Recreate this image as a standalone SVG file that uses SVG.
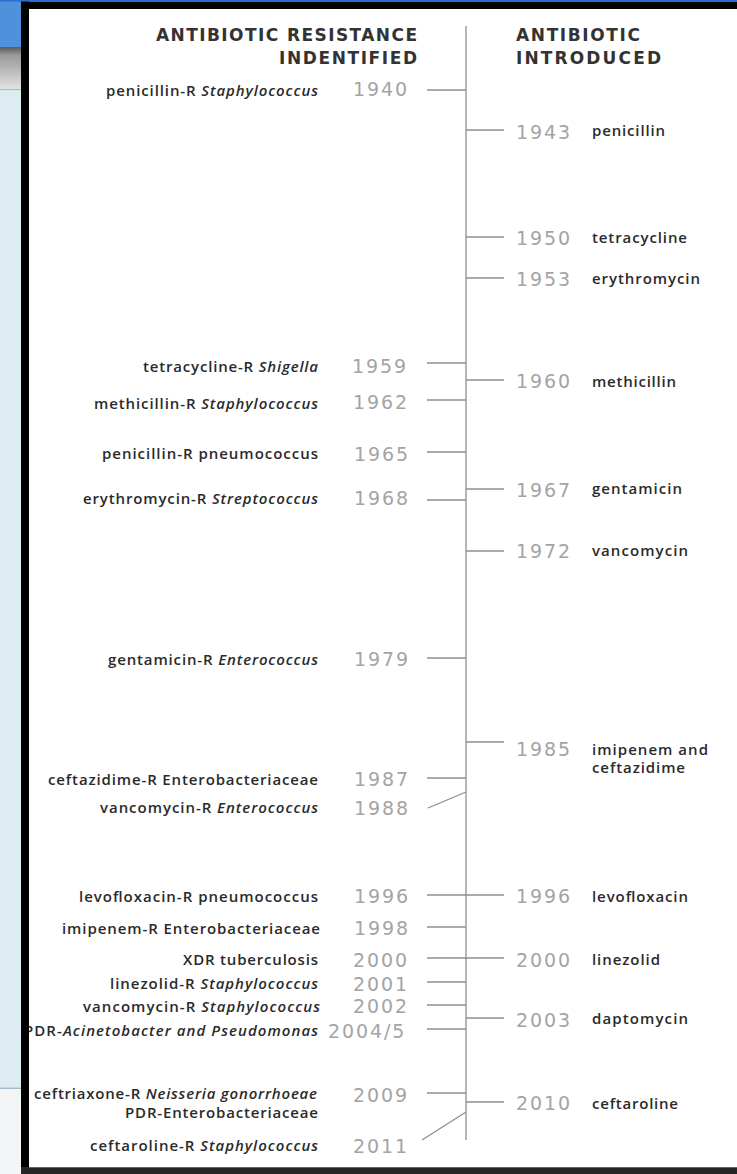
<svg xmlns="http://www.w3.org/2000/svg" width="737" height="1174" viewBox="0 0 737 1174">
<style>
.hdr{font-family:"DejaVu Sans","Liberation Sans",sans-serif;font-weight:bold;font-size:17px;fill:#333333}
.yr{font-family:"DejaVu Sans",sans-serif;font-size:19px;fill:#a4a4a4;letter-spacing:1.9px}
.lbl{font-family:"Open Sans","Liberation Sans",sans-serif;font-size:15px;font-weight:600;fill:#2a2a2a}
.l{text-anchor:end}
.it{font-style:italic}
.ln{stroke:#8e8e8e;stroke-width:1.3;fill:none}
</style>
<defs>
<linearGradient id="gbar" x1="0" y1="0" x2="0" y2="1">
<stop offset="0" stop-color="#5a5a5a"/><stop offset="0.2" stop-color="#9a9a9a"/><stop offset="1" stop-color="#e2e2e2"/>
</linearGradient>
</defs>
<!-- background screenshot strip -->
<rect x="0" y="0" width="737" height="1174" fill="#ffffff"/>
<rect x="0" y="0" width="22" height="47" fill="#4e92dc"/>
<rect x="0" y="47" width="22" height="42" fill="url(#gbar)"/>
<rect x="0" y="89" width="22" height="1.5" fill="#9fc3d3"/>
<rect x="0" y="90.5" width="22" height="997" fill="#dcecf1"/>
<rect x="0" y="1087.5" width="22" height="1.5" fill="#9fb9c6"/>
<rect x="0" y="1089" width="22" height="85" fill="#f3f5f6"/>

<g id="header">
<text class="hdr l" x="417" y="40.5" textLength="261" lengthAdjust="spacing">ANTIBIOTIC RESISTANCE</text>
<text class="hdr l" x="417" y="63.5" textLength="138" lengthAdjust="spacing">INDENTIFIED</text>
<text class="hdr" x="516" y="40.5" textLength="124" lengthAdjust="spacing">ANTIBIOTIC</text>
<text class="hdr" x="516" y="63.5" textLength="145" lengthAdjust="spacing">INTRODUCED</text>
</g>

<g id="connectors">
<line class="ln" x1="466" y1="26" x2="466" y2="1140"/>
<!-- left ticks -->
<line class="ln" x1="427" y1="90" x2="466" y2="90"/>
<line class="ln" x1="427" y1="363" x2="466" y2="363"/>
<line class="ln" x1="427" y1="400" x2="466" y2="400"/>
<line class="ln" x1="427" y1="452" x2="466" y2="452"/>
<line class="ln" x1="427" y1="500" x2="466" y2="500"/>
<line class="ln" x1="427" y1="658" x2="466" y2="658"/>
<line class="ln" x1="427" y1="778" x2="466" y2="778"/>
<line class="ln" x1="428" y1="808" x2="466" y2="792"/>
<line class="ln" x1="427" y1="895" x2="466" y2="895"/>
<line class="ln" x1="427" y1="927" x2="466" y2="927"/>
<line class="ln" x1="427" y1="958" x2="466" y2="958"/>
<line class="ln" x1="427" y1="982" x2="466" y2="982"/>
<line class="ln" x1="427" y1="1005" x2="466" y2="1005"/>
<line class="ln" x1="427" y1="1029" x2="466" y2="1029"/>
<line class="ln" x1="427" y1="1093" x2="466" y2="1093"/>
<line class="ln" x1="422" y1="1140" x2="466" y2="1112"/>
<!-- right ticks -->
<line class="ln" x1="466" y1="130" x2="504" y2="130"/>
<line class="ln" x1="466" y1="237" x2="504" y2="237"/>
<line class="ln" x1="466" y1="278" x2="504" y2="278"/>
<line class="ln" x1="466" y1="380" x2="504" y2="380"/>
<line class="ln" x1="466" y1="489" x2="504" y2="489"/>
<line class="ln" x1="466" y1="551" x2="504" y2="551"/>
<line class="ln" x1="466" y1="742" x2="504" y2="742"/>
<line class="ln" x1="466" y1="895" x2="504" y2="895"/>
<line class="ln" x1="466" y1="958" x2="504" y2="958"/>
<line class="ln" x1="466" y1="1018" x2="504" y2="1018"/>
<line class="ln" x1="466" y1="1102" x2="504" y2="1102"/>
</g>

<!-- resistance identified (left) -->
<g id="r1940"><text class="lbl l" x="318" y="96" textLength="212" lengthAdjust="spacing">penicillin-R <tspan class="it">Staphylococcus</tspan></text><text class="yr" x="353" y="96">1940</text></g>
<g id="r1959"><text class="lbl l" x="318" y="372" textLength="175" lengthAdjust="spacing">tetracycline-R <tspan class="it">Shigella</tspan></text><text class="yr" x="352" y="372.5">1959</text></g>
<g id="r1962"><text class="lbl l" x="318" y="409" textLength="224" lengthAdjust="spacing">methicillin-R <tspan class="it">Staphylococcus</tspan></text><text class="yr" x="353" y="409">1962</text></g>
<g id="r1965"><text class="lbl l" x="318" y="459" textLength="216" lengthAdjust="spacing">penicillin-R pneumococcus</text><text class="yr" x="354" y="460.5">1965</text></g>
<g id="r1968"><text class="lbl l" x="318" y="504" textLength="235" lengthAdjust="spacing">erythromycin-R <tspan class="it">Streptococcus</tspan></text><text class="yr" x="354" y="505">1968</text></g>
<g id="r1979"><text class="lbl l" x="318" y="665" textLength="210" lengthAdjust="spacing">gentamicin-R <tspan class="it">Enterococcus</tspan></text><text class="yr" x="354" y="666">1979</text></g>
<g id="r1987"><text class="lbl l" x="318" y="785" textLength="270" lengthAdjust="spacing">ceftazidime-R Enterobacteriaceae</text><text class="yr" x="354" y="786">1987</text></g>
<g id="r1988"><text class="lbl l" x="318" y="813" textLength="218" lengthAdjust="spacing">vancomycin-R <tspan class="it">Enterococcus</tspan></text><text class="yr" x="354" y="815">1988</text></g>
<g id="r1996"><text class="lbl l" x="318" y="902" textLength="239" lengthAdjust="spacing">levofloxacin-R pneumococcus</text><text class="yr" x="354" y="903">1996</text></g>
<g id="r1998"><text class="lbl l" x="320" y="934" textLength="258" lengthAdjust="spacing">imipenem-R Enterobacteriaceae</text><text class="yr" x="354" y="935">1998</text></g>
<g id="r2000"><text class="lbl l" x="318" y="965" textLength="135" lengthAdjust="spacing">XDR tuberculosis</text><text class="yr" x="353" y="966.5">2000</text></g>
<g id="r2001"><text class="lbl l" x="318" y="989" textLength="208" lengthAdjust="spacing">linezolid-R <tspan class="it">Staphylococcus</tspan></text><text class="yr" x="353" y="990.5">2001</text></g>
<g id="r2002"><text class="lbl l" x="320" y="1012" textLength="237" lengthAdjust="spacing">vancomycin-R <tspan class="it">Staphylococcus</tspan></text><text class="yr" x="353" y="1013">2002</text></g>
<g id="r2004"><text class="lbl l" x="318" y="1036" textLength="294" lengthAdjust="spacing">PDR-<tspan class="it">Acinetobacter and Pseudomonas</tspan></text><text class="yr" x="328" y="1038">2004/5</text></g>
<g id="r2009"><text class="lbl l" x="317" y="1099" textLength="283" lengthAdjust="spacing">ceftriaxone-R <tspan class="it">Neisseria gonorrhoeae</tspan></text><text class="lbl l" x="318" y="1118" textLength="193" lengthAdjust="spacing">PDR-Enterobacteriaceae</text><text class="yr" x="353" y="1102">2009</text></g>
<g id="r2011"><text class="lbl l" x="318" y="1151" textLength="228" lengthAdjust="spacing">ceftaroline-R <tspan class="it">Staphylococcus</tspan></text><text class="yr" x="353" y="1153">2011</text></g>

<!-- antibiotic introduced (right) -->
<g id="a1943"><text class="yr" x="516" y="139">1943</text><text class="lbl" x="592" y="136" textLength="73" lengthAdjust="spacing">penicillin</text></g>
<g id="a1950"><text class="yr" x="516" y="245">1950</text><text class="lbl" x="592" y="243" textLength="95" lengthAdjust="spacing">tetracycline</text></g>
<g id="a1953"><text class="yr" x="516" y="286">1953</text><text class="lbl" x="592" y="284" textLength="108" lengthAdjust="spacing">erythromycin</text></g>
<g id="a1960"><text class="yr" x="516" y="388">1960</text><text class="lbl" x="592" y="387" textLength="84" lengthAdjust="spacing">methicillin</text></g>
<g id="a1967"><text class="yr" x="516" y="496.5">1967</text><text class="lbl" x="592" y="494" textLength="90" lengthAdjust="spacing">gentamicin</text></g>
<g id="a1972"><text class="yr" x="516" y="558">1972</text><text class="lbl" x="592" y="556" textLength="96" lengthAdjust="spacing">vancomycin</text></g>
<g id="a1985"><text class="yr" x="516" y="756">1985</text><text class="lbl" x="592" y="755" textLength="116" lengthAdjust="spacing">imipenem and</text><text class="lbl" x="592" y="773" textLength="93" lengthAdjust="spacing">ceftazidime</text></g>
<g id="a1996"><text class="yr" x="516" y="903">1996</text><text class="lbl" x="592" y="902" textLength="96" lengthAdjust="spacing">levofloxacin</text></g>
<g id="a2000"><text class="yr" x="516" y="966.5">2000</text><text class="lbl" x="592" y="965" textLength="68" lengthAdjust="spacing">linezolid</text></g>
<g id="a2003"><text class="yr" x="516" y="1026.5">2003</text><text class="lbl" x="592" y="1024" textLength="96" lengthAdjust="spacing">daptomycin</text></g>
<g id="a2010"><text class="yr" x="516" y="1110">2010</text><text class="lbl" x="592" y="1109" textLength="86" lengthAdjust="spacing">ceftaroline</text></g>

<!-- frame -->
<rect x="0" y="0" width="737" height="1.6" fill="#2b6fcf"/>
<rect x="21" y="1.6" width="716" height="7.4" fill="#000"/>
<rect x="21" y="1.6" width="8" height="1172.4" fill="#000"/>
<rect x="21" y="1167" width="716" height="7" fill="#262626"/>
<rect x="29" y="1167" width="708" height="1" fill="#666"/>
</svg>
